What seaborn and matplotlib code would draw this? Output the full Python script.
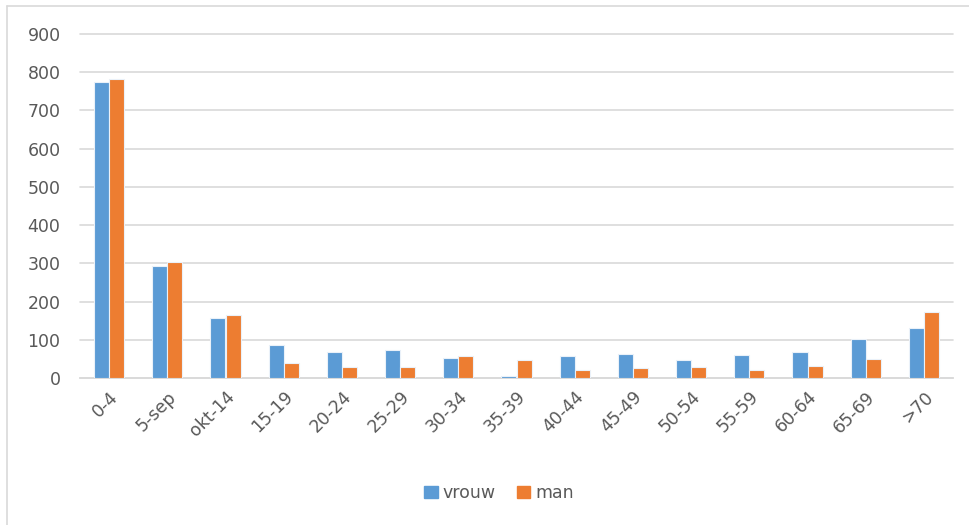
import matplotlib
matplotlib.use("Agg")
import matplotlib.pyplot as plt
from matplotlib.lines import Line2D
import seaborn as sns
import pandas as pd

# Age groups and counts per sex
categories = ['0-4', '5-sep', 'okt-14', '15-19', '20-24', '25-29', '30-34', '35-39',
              '40-44', '45-49', '50-54', '55-59', '60-64', '65-69', '>70']
vrouw = [774, 293, 158, 86, 69, 72, 53, 5, 58, 63, 48, 59, 69, 103, 130]
man = [782, 303, 164, 39, 29, 30, 58, 46, 20, 25, 28, 20, 32, 51, 173]
series = ['vrouw', 'man']
colors = ['#5B9BD5', '#ED7D31']
yticks = [0, 100, 200, 300, 400, 500, 600, 700, 800, 900]

df = pd.DataFrame({
    'leeftijd': categories * 2,
    'geslacht': ['vrouw'] * len(categories) + ['man'] * len(categories),
    'aantal': vrouw + man,
})

sns.set_style('white')
plt.rcParams['font.family'] = ['DejaVu Sans']

fig = plt.figure(figsize=(9.69, 5.25), dpi=100)
ax = fig.add_axes([80 / 969, 1 - 378 / 525, (953 - 80) / 969, (378 - 34) / 525])

sns.barplot(data=df, x='leeftijd', y='aantal', hue='geslacht', hue_order=series,
            order=categories, palette=colors, width=0.52, saturation=1,
            edgecolor='#EAF1F9', linewidth=0.8, ax=ax)
# bars sit on top of the baseline, like the original
for p in ax.patches:
    p.set_zorder(3)

ax.set_ylim(0, 900)
ax.set_xlim(-0.5, len(categories) - 0.5)
ax.set_yticks(yticks)
ax.yaxis.grid(True, color='#D9D9D9', linewidth=1.2)
for gl in ax.get_ygridlines():
    gl.set_clip_on(False)
ax.set_axisbelow(True)
for side in ['top', 'right', 'left']:
    ax.spines[side].set_visible(False)
ax.spines['bottom'].set_color('#D9D9D9')
ax.spines['bottom'].set_linewidth(1.2)
ax.spines['bottom'].set_zorder(2)
ax.set_xlabel('')
ax.set_ylabel('')
ax.tick_params(axis='both', length=0, labelcolor='#595959', labelsize=12.5)
ax.tick_params(axis='y', pad=14)
ax.tick_params(axis='x', pad=7)
plt.setp(ax.get_xticklabels(), rotation=45, ha='right', rotation_mode='anchor')

ax.get_legend().remove()
handles = [plt.Rectangle((0, 0), 1, 1, color=c) for c in colors]
fig.legend(handles, series, loc='center', bbox_to_anchor=(499 / 969, 1 - 493 / 525),
           ncol=2, frameon=False, fontsize=12.5, labelcolor='#595959',
           handlelength=0.75, handleheight=0.75, handletextpad=0.3, columnspacing=1.2)

# light chart border (left and top)
fig.add_artist(Line2D([7 / 969, 7 / 969], [0, 1 - 6 / 525], color='#D9D9D9', linewidth=1.2))
fig.add_artist(Line2D([7 / 969, 1], [1 - 6 / 525, 1 - 6 / 525], color='#D9D9D9', linewidth=1.2))

fig.savefig('out.png', dpi=100)
